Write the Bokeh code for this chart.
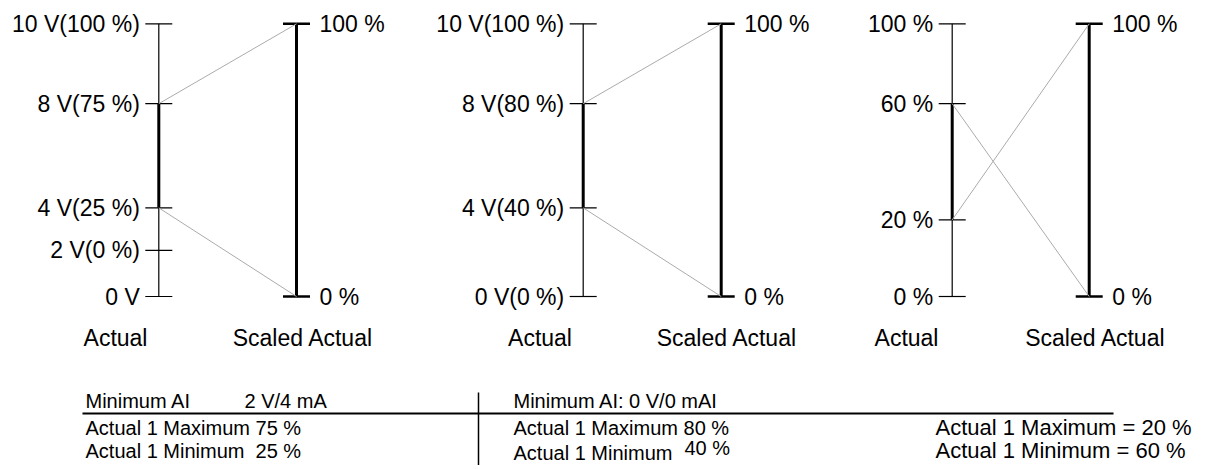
from bokeh.plotting import figure
from bokeh.models import Range1d
from bokeh.core.properties import value
from bokeh.embed import file_html
from bokeh.resources import INLINE

# ---------------- data ----------------
# levels are in percent of the drawn axis height (schematic positions)
p1_actual_labels = ["0 V", "2 V(0 %)", "4 V(25 %)", "8 V(75 %)", "10 V(100 %)"]
p1_actual_levels = [0, 16.9, 32.5, 70.7, 100]
p2_actual_labels = ["0 V(0 %)", "4 V(40 %)", "8 V(80 %)", "10 V(100 %)"]
p2_actual_levels = [0, 32.5, 70.7, 100]
p3_actual_labels = ["0 %", "20 %", "60 %", "100 %"]
p3_actual_levels = [0, 28.1, 70.7, 100]
scaled_labels = ["0 %", "100 %"]
scaled_levels = [0, 100]

# level of "Actual 1 Maximum" and "Actual 1 Minimum" on each Actual axis
actual_max_levels = [70.7, 70.7, 28.1]
actual_min_levels = [32.5, 32.5, 70.7]

axis_names = ["Actual", "Scaled Actual"]

row1_texts = ["Minimum AI", "2 V/4 mA", "Minimum AI: 0 V/0 mAI"]
row2_texts = ["Actual 1 Maximum 75 %", "Actual 1 Maximum 80 %"]
row3_texts = ["Actual 1 Minimum\u00a0 25 %", "Actual 1 Minimum", "40 %"]
panel3_texts = ["Actual 1 Maximum = 20 %", "Actual 1 Minimum = 60 %"]

# ---------------- layout ----------------
W, H = 1206, 465
actual_x = [158.3, 582.7, 951.7]
scaled_x = [296.0, 720.7, 1088.7]
name_x = [(115, 302.5), (539.5, 726.5), (906, 1095)]
tick_half = 13.5
FONT = value("Liberation Sans")
K = 2.727          # px per level unit
Y0 = 296.0         # page y of level 0

p = figure(width=W, height=H, output_backend="svg", toolbar_location=None,
           x_range=Range1d(0, W), y_range=Range1d((Y0 - H) / K, Y0 / K),
           x_axis_type=None, y_axis_type=None, min_border=0)
p.grid.visible = False
p.outline_line_color = None
p.background_fill_color = "white"
p.border_fill_color = "white"

panels = [(p1_actual_labels, p1_actual_levels),
          (p2_actual_labels, p2_actual_levels),
          (p3_actual_labels, p3_actual_levels)]

for i, (labels, levels) in enumerate(panels):
    ax, sx = actual_x[i], scaled_x[i]
    p.segment(x0=[ax], y0=[min(levels)], x1=[ax], y1=[max(levels)],
              line_color="black", line_width=1.2)
    p.segment(x0=[ax - tick_half] * len(levels), y0=levels,
              x1=[ax + tick_half] * len(levels), y1=levels,
              line_color="black", line_width=1.2)
    lo = min(actual_min_levels[i], actual_max_levels[i])
    hi = max(actual_min_levels[i], actual_max_levels[i])
    p.segment(x0=[ax], y0=[lo], x1=[ax], y1=[hi], line_color="black", line_width=3)
    p.segment(x0=[sx], y0=[scaled_levels[0]], x1=[sx], y1=[scaled_levels[-1]],
              line_color="black", line_width=3)
    p.segment(x0=[sx - tick_half] * 2, y0=scaled_levels,
              x1=[sx + tick_half] * 2, y1=scaled_levels,
              line_color="black", line_width=2.5)
    p.segment(x0=[ax, ax], y0=[actual_max_levels[i], actual_min_levels[i]],
              x1=[sx, sx], y1=[scaled_levels[-1], scaled_levels[0]],
              line_color="#ababab", line_width=1)
    p.text(x=[ax - 19] * len(levels), y=levels, text=labels,
           text_align="right", text_baseline="middle",
           text_font=FONT, text_font_size="23px", text_color="black")
    p.text(x=[sx + 23] * 2, y=scaled_levels, text=scaled_labels,
           text_align="left", text_baseline="middle",
           text_font=FONT, text_font_size="23px", text_color="black")
    p.text(x=list(name_x[i]), y=[(Y0 - 337) / K] * 2, text=axis_names,
           text_align="center", text_baseline="middle",
           text_font=FONT, text_font_size="23px", text_color="black")

# bottom table
p.segment(x0=[82], y0=[(Y0 - 413) / K], x1=[1113], y1=[(Y0 - 413) / K],
          line_color="black", line_width=2)
p.segment(x0=[478], y0=[(Y0 - 392) / K], x1=[478], y1=[(Y0 - 467) / K],
          line_color="black", line_width=1.5)

p.text(x=[85, 244, 513], y=[(Y0 - 400) / K] * 3, text=row1_texts,
       text_align="left", text_baseline="middle",
       text_font=FONT, text_font_size="20px", text_color="black")
p.text(x=[85, 513], y=[(Y0 - 427) / K] * 2, text=row2_texts,
       text_align="left", text_baseline="middle",
       text_font=FONT, text_font_size="20px", text_color="black")
p.text(x=[85, 513, 684], y=[(Y0 - 450) / K, (Y0 - 452) / K, (Y0 - 447) / K],
       text=row3_texts, text_align="left", text_baseline="middle",
       text_font=FONT, text_font_size="20px", text_color="black")
p.text(x=[935, 935], y=[(Y0 - 427) / K, (Y0 - 450) / K], text=panel3_texts,
       text_align="left", text_baseline="middle",
       text_font=FONT, text_font_size="22px", text_color="black")

open("out.html", "w").write(file_html(p, INLINE))
